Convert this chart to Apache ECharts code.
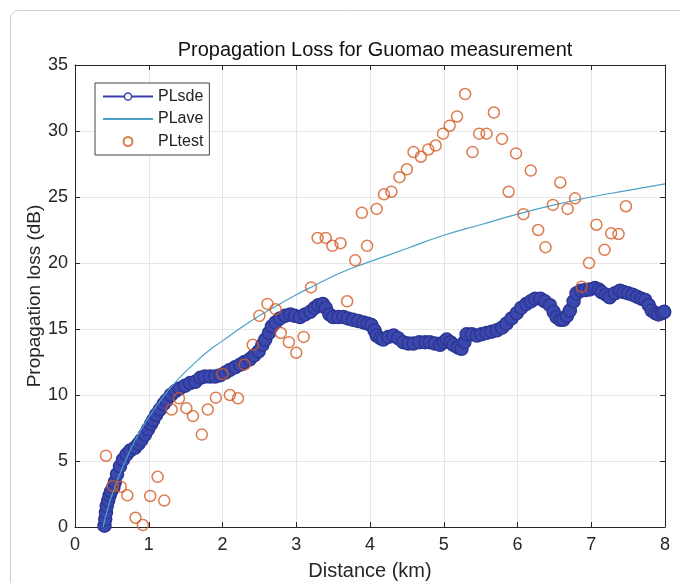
<!DOCTYPE html>
<html>
<head>
<meta charset="utf-8">
<script src="https://cdn.jsdelivr.net/npm/echarts@6/dist/echarts.min.js"></script>
<style>html,body{margin:0;padding:0;background:#fff;}#c{width:680px;height:583px;}</style>
</head>
<body>
<div id="c"></div>
<script>
const titleText = 'Propagation Loss for Guomao measurement';
const xName = 'Distance (km)';
const yName = 'Propagation loss (dB)';
const seriesNames = ['PLsde', 'PLave', 'PLtest'];

// PLsde: [distance km, loss dB] read along the dense blue band
const plsde = [
[0.40,0.1],[0.41,0.6],[0.42,1.1],[0.43,1.6],[0.45,2.0],[0.47,2.4],[0.49,2.7],[0.52,3.0],[0.54,3.4],[0.57,4.0],
[0.61,4.6],[0.65,5.1],[0.70,5.5],[0.75,5.8],[0.81,6.0],[0.86,6.3],[0.90,6.6],[0.95,7.0],[0.99,7.4],[1.03,7.8],
[1.06,8.1],[1.10,8.5],[1.15,8.9],[1.20,9.3],[1.24,9.6],[1.30,10.0],[1.36,10.3],[1.42,10.5],[1.49,10.7],[1.56,10.9],
[1.63,11.0],[1.70,11.3],[1.76,11.4],[1.83,11.4],[1.90,11.4],[1.97,11.5],[2.04,11.7],[2.10,11.9],[2.17,12.1],[2.24,12.3],
[2.30,12.5],[2.37,12.7],[2.43,13.0],[2.49,13.3],[2.54,13.8],[2.58,14.2],[2.63,14.7],[2.67,15.2],[2.72,15.5],[2.78,15.8],
[2.85,16.0],[2.92,16.1],[2.98,16.0],[3.05,15.9],[3.12,16.1],[3.19,16.3],[3.25,16.6],[3.30,16.8],[3.36,16.9],[3.40,16.6],
[3.45,16.1],[3.50,15.9],[3.57,15.9],[3.64,15.9],[3.70,15.8],[3.77,15.7],[3.84,15.6],[3.91,15.5],[3.97,15.4],[4.02,15.3],
[4.06,14.9],[4.09,14.5],[4.14,14.3],[4.18,14.2],[4.25,14.4],[4.32,14.5],[4.38,14.3],[4.45,14.0],[4.52,13.9],[4.59,13.9],
[4.67,14.0],[4.75,14.0],[4.81,14.0],[4.88,13.9],[4.95,13.8],[5.00,14.0],[5.04,14.2],[5.09,14.0],[5.13,13.8],[5.19,13.6],
[5.24,13.5],[5.28,14.0],[5.31,14.6],[5.38,14.6],[5.45,14.5],[5.51,14.6],[5.58,14.7],[5.65,14.8],[5.72,14.9],[5.79,15.1],
[5.85,15.4],[5.92,15.8],[5.99,16.2],[6.05,16.6],[6.12,16.9],[6.18,17.1],[6.24,17.3],[6.31,17.3],[6.37,17.1],[6.44,16.8],
[6.49,16.3],[6.53,15.9],[6.58,15.7],[6.62,15.7],[6.67,16.0],[6.71,16.4],[6.76,17.1],[6.80,17.7],[6.86,17.9],[6.92,17.95],
[6.98,18.0],[7.05,18.1],[7.10,18.0],[7.14,17.8],[7.20,17.6],[7.25,17.4],[7.32,17.7],[7.39,17.9],[7.44,17.8],[7.50,17.7],
[7.56,17.6],[7.62,17.45],[7.68,17.3],[7.73,17.2],[7.78,16.8],[7.82,16.4],[7.87,16.2],[7.91,16.1],[7.96,16.2],[7.99,16.3]
];

// PLave: smooth average curve, read at sample distances
const plave = [
[0.38,0.0],[0.45,1.5],[0.5,2.4],[0.6,3.9],[0.7,5.2],[0.8,6.4],[0.9,7.4],[1.0,8.3],[1.2,9.9],[1.4,11.2],
[1.6,12.3],[1.8,13.3],[2.0,14.1],[2.25,15.1],[2.5,16.0],[2.75,16.8],[3.0,17.6],[3.25,18.3],[3.5,19.0],[3.75,19.6],
[4.0,20.1],[4.5,21.1],[5.0,22.1],[5.5,22.9],[6.0,23.7],[6.5,24.4],[7.0,25.0],[7.5,25.5],[8.0,26.0]
];

// PLtest: measured points
const pltest = [
[0.42,5.4],[0.51,3.1],[0.62,3.05],[0.71,2.4],[0.82,0.7],[0.92,0.15],[1.02,2.35],[1.12,3.8],[1.21,2.0],
[1.31,8.9],[1.41,9.75],[1.51,9.0],[1.60,8.4],[1.72,7.0],[1.80,8.9],[1.91,9.8],[2.00,11.6],[2.10,10.0],[2.21,9.75],
[2.30,12.3],[2.41,13.8],[2.50,16.0],[2.61,16.9],[2.72,16.5],[2.79,14.7],[2.90,14.0],[3.00,13.2],[3.10,14.4],
[3.20,18.15],[3.29,21.9],[3.40,21.9],[3.49,21.3],[3.60,21.5],[3.69,17.1],[3.80,20.2],[3.89,23.8],[3.96,21.3],
[4.09,24.1],[4.19,25.2],[4.29,25.4],[4.40,26.5],[4.50,27.1],[4.59,28.4],[4.69,28.05],[4.79,28.6],[4.89,28.9],
[4.99,29.8],[5.08,30.4],[5.18,31.1],[5.29,32.8],[5.39,28.4],[5.48,29.8],[5.58,29.8],[5.68,31.4],[5.79,29.4],
[5.88,25.4],[5.98,28.3],[6.08,23.7],[6.18,27.0],[6.28,22.5],[6.38,21.2],[6.48,24.4],[6.58,26.1],[6.68,24.1],
[6.78,24.9],[6.87,18.2],[6.97,20.0],[7.07,22.9],[7.18,21.0],[7.27,22.25],[7.37,22.2],[7.47,24.3]
];

const xMin = 0, xMax = 8, xStep = 1;
const yMin = 0, yMax = 35, yStep = 5;

const FONT = '"Liberation Sans", Arial, Helvetica, sans-serif';
const AX = '#262626';
const chart = echarts.init(document.getElementById('c'), null, {renderer: 'canvas'});

function axisBase(extra) {
  return Object.assign({
    type: 'value',
    axisLine: {show: true, onZero: false, lineStyle: {color: AX, width: 1}},
    axisTick: {show: true, inside: true, length: 5, lineStyle: {color: AX}},
    axisLabel: {color: AX, fontSize: 18, fontFamily: FONT},
    splitLine: {show: false}
  }, extra);
}

chart.setOption({
  backgroundColor: '#fff',
  animation: false,
  textStyle: {fontFamily: FONT},
  graphic: [{
    type: 'rect', z: -10, silent: true,
    shape: {x: 10.5, y: 10.5, width: 720, height: 640, r: 8},
    style: {fill: 'none', stroke: '#cfcfcf', lineWidth: 1}
  }],
  title: {
    text: titleText, left: 370, top: 35, textAlign: 'center',
    textStyle: {fontSize: 20, fontWeight: 'normal', color: '#111', fontFamily: FONT}
  },
  legend: {
    orient: 'vertical', left: 95, top: 83,
    itemWidth: 50, itemHeight: 9, itemGap: 5.5,
    padding: [5, 6, 5, 7],
    borderColor: '#444', borderWidth: 1, backgroundColor: '#fff',
    textStyle: {fontSize: 16, color: '#222', fontFamily: FONT, lineHeight: 17},
    data: [
      {name: seriesNames[0], itemStyle: {color: '#fff', borderColor: '#3a3fb0', borderWidth: 1.5}},
      {name: seriesNames[1], itemStyle: {opacity: 0}},
      {name: seriesNames[2], icon: 'circle'}
    ]
  },
  grid: {left: 75, right: 15, top: 65, bottom: 56, containLabel: false, outerBoundsMode: 'none'},
  xAxis: [
    axisBase({
      min: xMin, max: xMax, interval: xStep, position: 'bottom',
      name: xName, nameLocation: 'middle', nameGap: 34, nameMoveOverlap: false,
      nameTextStyle: {fontSize: 20, color: AX, fontFamily: FONT},
      axisLabel: {color: AX, fontSize: 18, fontFamily: FONT, margin: 9},
      splitLine: {show: true, lineStyle: {color: '#e6e6e6', width: 1}}
    }),
    axisBase({min: xMin, max: xMax, interval: xStep, position: 'top', axisLabel: {show: false}})
  ],
  yAxis: [
    axisBase({
      min: yMin, max: yMax, interval: yStep, position: 'left',
      name: yName, nameLocation: 'middle', nameGap: 31, nameMoveOverlap: false,
      nameTextStyle: {fontSize: 19, color: AX, fontFamily: FONT},
      axisLabel: {color: AX, fontSize: 18, fontFamily: FONT, margin: 7},
      splitLine: {show: true, lineStyle: {color: '#e6e6e6', width: 1}}
    }),
    axisBase({min: yMin, max: yMax, interval: yStep, position: 'right', axisLabel: {show: false}})
  ],
  series: [
    {
      name: seriesNames[0], type: 'line', data: plsde,
      symbol: 'circle', symbolSize: 13, showAllSymbol: true,
      lineStyle: {color: '#3a3fb0', width: 1.2},
      itemStyle: {color: '#3b48ad', borderColor: '#2c3795', borderWidth: 1.5},
      z: 2
    },
    {
      name: seriesNames[1], type: 'line', data: plave, smooth: true,
      symbol: 'none',
      lineStyle: {color: '#4aa3c6', width: 1.2},
      itemStyle: {color: '#4aa3c6'},
      z: 3
    },
    {
      name: seriesNames[2], type: 'scatter', data: pltest,
      symbol: 'circle', symbolSize: 11,
      itemStyle: {color: 'rgba(0,0,0,0)', borderColor: '#d45a22', borderWidth: 1.5},
      z: 4
    }
  ]
});
</script>
</body>
</html>
